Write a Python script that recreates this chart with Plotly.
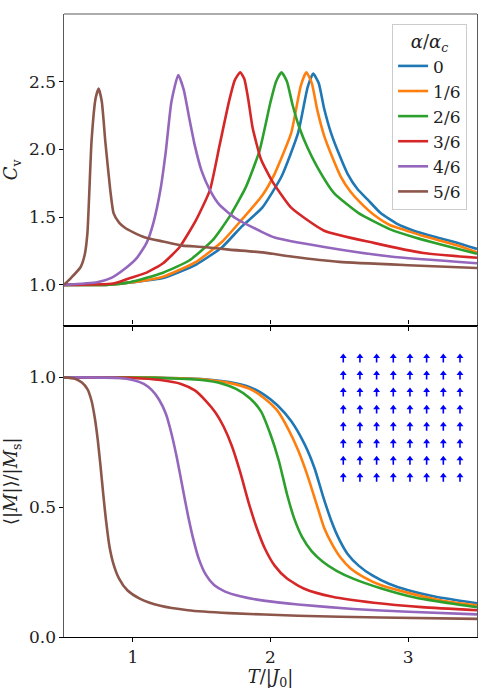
import numpy as np
import plotly.graph_objects as go

# ---------------- data ----------------
labels = ["0", "1/6", "2/6", "3/6", "4/6", "5/6"]
colors = ["#1f77b4", "#ff7f0e", "#2ca02c", "#d62728", "#9467bd", "#8c564b"]

# specific heat C_v(T)
T_cv_0 = [0.5, 0.8, 1.0, 1.22, 1.46, 1.65, 1.79, 1.94, 2.08, 2.20, 2.27, 2.31, 2.35, 2.39, 2.44, 2.50, 2.56, 2.63, 2.71, 2.80, 2.92, 3.04, 3.19, 3.36, 3.5]
cv_0 = [1.0, 1.0, 1.02, 1.05, 1.15, 1.28, 1.43, 1.57, 1.80, 2.12, 2.46, 2.56, 2.49, 2.30, 2.12, 1.96, 1.82, 1.71, 1.625, 1.53, 1.45, 1.40, 1.355, 1.31, 1.265]

T_cv_1 = [0.5, 0.8, 1.0, 1.22, 1.46, 1.65, 1.79, 1.94, 2.03, 2.15, 2.22, 2.26, 2.30, 2.34, 2.39, 2.45, 2.51, 2.58, 2.66, 2.76, 2.87, 2.99, 3.11, 3.36, 3.5]
cv_1 = [1.0, 1.0, 1.02, 1.06, 1.17, 1.32, 1.48, 1.66, 1.82, 2.12, 2.47, 2.57, 2.49, 2.29, 2.10, 1.94, 1.80, 1.69, 1.60, 1.51, 1.44, 1.40, 1.36, 1.29, 1.24]

T_cv_2 = [0.5, 0.8, 0.98, 1.22, 1.41, 1.58, 1.70, 1.82, 1.92, 2.00, 2.04, 2.08, 2.12, 2.16, 2.21, 2.27, 2.34, 2.46, 2.64, 2.87, 3.05, 3.23, 3.5]
cv_2 = [1.0, 1.0, 1.02, 1.09, 1.18, 1.33, 1.50, 1.72, 1.99, 2.35, 2.50, 2.57, 2.50, 2.33, 2.16, 2.01, 1.87, 1.68, 1.53, 1.41, 1.35, 1.30, 1.23]

T_cv_3 = [0.5, 0.86, 0.98, 1.10, 1.22, 1.34, 1.46, 1.56, 1.63, 1.70, 1.74, 1.78, 1.81, 1.84, 1.87, 1.93, 2.01, 2.15, 2.39, 2.75, 3.11, 3.5]
cv_3 = [1.0, 1.01, 1.05, 1.09, 1.16, 1.28, 1.48, 1.70, 2.03, 2.36, 2.51, 2.57, 2.52, 2.36, 2.16, 1.93, 1.77, 1.57, 1.40, 1.31, 1.235, 1.20]

T_cv_4 = [0.5, 0.74, 0.84, 0.93, 1.03, 1.10, 1.15, 1.20, 1.24, 1.28, 1.33, 1.37, 1.41, 1.45, 1.50, 1.56, 1.63, 1.75, 1.94, 2.03, 2.39, 2.87, 3.5]
cv_4 = [1.0, 1.02, 1.05, 1.11, 1.20, 1.31, 1.46, 1.70, 1.99, 2.35, 2.55, 2.44, 2.23, 2.03, 1.84, 1.70, 1.59, 1.49, 1.39, 1.35, 1.28, 1.21, 1.16]

T_cv_5 = [0.5, 0.55, 0.62, 0.65, 0.67, 0.70, 0.73, 0.752, 0.775, 0.80, 0.836, 0.86, 0.90, 0.945, 1.0, 1.09, 1.22, 1.36, 1.51, 1.70, 1.94, 2.15, 2.5, 3.0, 3.5]
cv_5 = [1.0, 1.05, 1.13, 1.22, 1.38, 2.06, 2.38, 2.45, 2.35, 2.06, 1.70, 1.53, 1.46, 1.42, 1.39, 1.35, 1.32, 1.29, 1.28, 1.26, 1.24, 1.21, 1.17, 1.145, 1.125]

# magnetisation <|M|>/|M_s|
T_m_0 = [0.5, 1.2, 1.5, 1.7, 1.85, 1.95, 2.05, 2.15, 2.25, 2.32, 2.38, 2.44, 2.50, 2.56, 2.64, 2.74, 2.86, 3.0, 3.2, 3.5]
m_0 = [1.0, 0.999, 0.994, 0.982, 0.962, 0.935, 0.893, 0.832, 0.74, 0.65, 0.545, 0.45, 0.375, 0.32, 0.275, 0.237, 0.205, 0.18, 0.155, 0.13]

T_m_1 = [0.5, 1.2, 1.5, 1.7, 1.85, 1.95, 2.05, 2.13, 2.20, 2.27, 2.33, 2.39, 2.45, 2.51, 2.58, 2.68, 2.80, 3.0, 3.25, 3.5]
m_1 = [1.0, 0.999, 0.993, 0.979, 0.956, 0.922, 0.872, 0.80, 0.72, 0.62, 0.52, 0.42, 0.355, 0.305, 0.265, 0.23, 0.20, 0.17, 0.14, 0.122]

T_m_2 = [0.5, 1.2, 1.5, 1.65, 1.75, 1.85, 1.93, 2.00, 2.06, 2.12, 2.17, 2.23, 2.30, 2.38, 2.48, 2.60, 2.80, 3.05, 3.3, 3.5]
m_2 = [1.0, 0.998, 0.99, 0.976, 0.956, 0.92, 0.87, 0.78, 0.68, 0.55, 0.46, 0.385, 0.33, 0.29, 0.255, 0.225, 0.188, 0.152, 0.13, 0.115]

T_m_3 = [0.5, 1.0, 1.2, 1.35, 1.45, 1.53, 1.60, 1.66, 1.72, 1.78, 1.84, 1.90, 1.96, 2.03, 2.12, 2.25, 2.45, 2.75, 3.1, 3.5]
m_3 = [1.0, 0.998, 0.99, 0.975, 0.95, 0.91, 0.865, 0.81, 0.735, 0.635, 0.52, 0.42, 0.34, 0.275, 0.225, 0.185, 0.155, 0.132, 0.115, 0.103]

T_m_4 = [0.5, 0.9, 1.0, 1.08, 1.14, 1.19, 1.24, 1.28, 1.32, 1.36, 1.40, 1.44, 1.48, 1.53, 1.59, 1.67, 1.78, 1.95, 2.2, 2.6, 3.0, 3.5]
m_4 = [1.0, 0.998, 0.99, 0.975, 0.95, 0.915, 0.86, 0.785, 0.69, 0.58, 0.47, 0.375, 0.30, 0.24, 0.20, 0.175, 0.157, 0.14, 0.125, 0.108, 0.097, 0.087]

T_m_5 = [0.5, 0.58, 0.63, 0.67, 0.70, 0.725, 0.745, 0.765, 0.785, 0.805, 0.83, 0.86, 0.90, 0.96, 1.05, 1.2, 1.4, 1.7, 2.2, 2.8, 3.5]
m_5 = [1.0, 0.995, 0.98, 0.955, 0.91, 0.84, 0.76, 0.66, 0.55, 0.45, 0.35, 0.28, 0.225, 0.18, 0.148, 0.12, 0.103, 0.092, 0.082, 0.075, 0.07]

T_cv = [T_cv_0, T_cv_1, T_cv_2, T_cv_3, T_cv_4, T_cv_5]
cv = [cv_0, cv_1, cv_2, cv_3, cv_4, cv_5]
T_m = [T_m_0, T_m_1, T_m_2, T_m_3, T_m_4, T_m_5]
mag = [m_0, m_1, m_2, m_3, m_4, m_5]

# inset spin lattice (8x8, all spins up)
lattice_n = 8
spin_dx = 0.0
spin_dy = 1.0

x_ticks = [1, 2, 3]
cv_ticks = [1.0, 1.5, 2.0, 2.5]
m_ticks = [0.0, 0.5, 1.0]

# ---------------- figure ----------------
FONT = "DejaVu Serif"
fig = go.Figure()
LW = 2.6

for i in range(6):
    fig.add_trace(go.Scatter(
        x=T_cv[i], y=cv[i], mode="lines", name=labels[i],
        line=dict(color=colors[i], width=LW, shape="spline", smoothing=0.5),
        xaxis="x", yaxis="y", showlegend=True))
for i in range(6):
    fig.add_trace(go.Scatter(
        x=T_m[i], y=mag[i], mode="lines", name=labels[i],
        line=dict(color=colors[i], width=LW, shape="spline", smoothing=0.6),
        xaxis="x2", yaxis="y2", showlegend=False))

# inset arrows
gx, gy = np.meshgrid(np.arange(lattice_n), np.arange(lattice_n))
gx = gx.ravel().astype(float)
gy = gy.ravel().astype(float)
half = 0.24
sx, sy = [], []
for x0, y0 in zip(gx, gy):
    sx += [x0 - half * spin_dx, x0 + 0.5 * half * spin_dx, None]
    sy += [y0 - half * spin_dy, y0 + 0.3 * half * spin_dy, None]
fig.add_trace(go.Scatter(x=sx, y=sy, mode="lines",
                         line=dict(color="#0000ff", width=1.6),
                         xaxis="x3", yaxis="y3", showlegend=False, hoverinfo="skip"))
fig.add_trace(go.Scatter(x=gx + 0.4 * half * spin_dx, y=gy + 0.45 * half * spin_dy, mode="markers",
                         marker=dict(symbol="triangle-up", size=6, color="#0000ff", line=dict(width=0)),
                         xaxis="x3", yaxis="y3", showlegend=False, hoverinfo="skip"))

GREY = "#5a5a5a"
tickfont = dict(family=FONT, size=17, color="#222")
titlefont = dict(family=FONT, size=18, color="#222")

fig.update_layout(
    width=484, height=692,
    margin=dict(l=60, r=6, t=14, b=55),
    paper_bgcolor="white", plot_bgcolor="white",
    font=dict(family=FONT, size=17, color="#222"),
    xaxis=dict(domain=[0, 1], anchor="y", range=[0.5, 3.5], tickvals=x_ticks,
               showticklabels=False, ticks="outside", ticklen=4, tickwidth=1.2,
               tickcolor="black", showline=True, linecolor="black", linewidth=1.2,
               showgrid=False, zeroline=False),
    yaxis=dict(domain=[0.5, 1], anchor="x", range=[0.7, 3.0], tickvals=cv_ticks,
               ticktext=[f"{v:.1f}" for v in cv_ticks], ticks="outside", ticklen=3.5,
               tickcolor="black", showline=True, linecolor=GREY, linewidth=1.2, mirror=True,
               showgrid=False, zeroline=False, tickfont=tickfont,
               title=dict(text="<i>C</i><sub>v</sub>", font=titlefont, standoff=10)),
    xaxis2=dict(domain=[0, 1], anchor="y2", range=[0.5, 3.5], tickvals=x_ticks,
                ticks="outside", ticklen=4, tickwidth=1.2, tickcolor="black",
                showline=True, linecolor="black", linewidth=1.2, mirror="ticks",
                showgrid=False, zeroline=False, tickfont=tickfont,
                title=dict(text="<i>T</i>/|<i>J</i><sub>0</sub>|", font=titlefont, standoff=4)),
    yaxis2=dict(domain=[0, 0.5], anchor="x2", range=[0, 1.2], tickvals=m_ticks,
                ticktext=[f"{v:.1f}" for v in m_ticks], ticks="outside", ticklen=3.5,
                tickcolor="black", showline=True, linecolor=GREY, linewidth=1.2, mirror=True,
                showgrid=False, zeroline=False, tickfont=tickfont,
                title=dict(text="⟨|<i>M</i>|⟩/|<i>M</i><sub>s</sub>|", font=titlefont, standoff=10)),
    xaxis3=dict(domain=[0.656, 0.979], anchor="y3", range=[-0.5, 7.5], visible=False),
    yaxis3=dict(domain=[0.242, 0.461], anchor="x3", range=[-0.5, 7.5], visible=False),
    legend=dict(x=0.976, y=0.984, xanchor="right", yanchor="top",
                bgcolor="rgba(255,255,255,0.8)", bordercolor="#cccccc", borderwidth=1,
                font=dict(family=FONT, size=17, color="#222"),
                title=dict(text="<i>α</i>/<i>α</i><sub><i>c</i></sub>", side="top center",
                           font=dict(family=FONT, size=18, color="#222")),
                tracegroupgap=0),
    shapes=[dict(type="line", xref="paper", yref="paper", x0=0, x1=1, y0=1, y1=1,
                 line=dict(color=GREY, width=1.2))],
)

fig.write_html("out.html")
